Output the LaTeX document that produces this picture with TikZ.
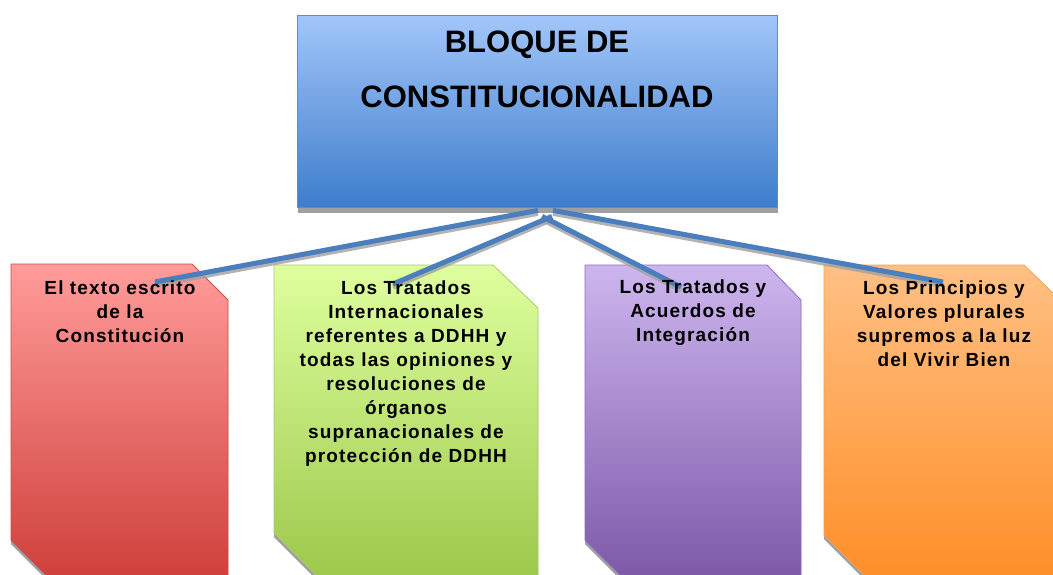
\documentclass[tikz,border=0pt]{standalone}
\usepackage{fontspec}
\setmainfont{Liberation Sans}
\newfontfamily\boxfont[LetterSpace=6]{Liberation Sans}
\definecolor{topT}{HTML}{A2C6FA}
\definecolor{topB}{HTML}{3E7DCB}
\definecolor{topD}{HTML}{5B8BC8}
\definecolor{redT}{HTML}{FF9C9A}
\definecolor{redB}{HTML}{CF3F3A}
\definecolor{redD}{HTML}{C0504D}
\definecolor{grnT}{HTML}{DFFF9E}
\definecolor{grnB}{HTML}{9CC84B}
\definecolor{grnD}{HTML}{A8CB6A}
\definecolor{purT}{HTML}{CDB6EE}
\definecolor{purB}{HTML}{7D58A8}
\definecolor{purD}{HTML}{8E6DB8}
\definecolor{orgT}{HTML}{FFC084}
\definecolor{orgB}{HTML}{FF8E28}
\definecolor{orgD}{HTML}{F7A04F}
\definecolor{lineC}{HTML}{4A7EBD}
\definecolor{shadowC}{HTML}{A0A0A0}
\begin{document}
\begin{tikzpicture}[x=1pt,y=-1pt,
  titlebox/.style={draw=topD, line width=0.8pt, top color=topT, bottom color=topB,
    minimum width=480pt, minimum height=192pt, inner sep=0pt},
  boxtext/.style={font=\boxfont\bfseries\fontsize{19}{24}\selectfont, align=center,
    anchor=north, inner sep=0pt, text=black},
  link/.style={draw=lineC, line width=5pt},
  linkshadow/.style={draw=shadowC, line width=5pt, opacity=0.8},
  boxshadow/.style={fill=shadowC}
]
\useasboundingbox (0,0) rectangle (1053,574);
\clip (0,0) rectangle (1053,574);

% top box
\fill[boxshadow] (298,19) rectangle (778,213);
\node[titlebox] (top) at (537,111) {};
\node[font=\bfseries\fontsize{31}{55}\selectfont, align=center, anchor=north, inner sep=0pt]
  (title) at (537,31) {BLOQUE DE\\CONSTITUCIONALIDAD};

% chamfered boxes: shadows
\begin{scope}[shift={(0,4)}]
\fill[boxshadow] (11,264) -- (192,264) -- (228,300) -- (228,580) -- (51,580) -- (11,540) -- cycle;
\fill[boxshadow] (274,265) -- (493,265) -- (538,308) -- (538,580) -- (321,580) -- (274,533) -- cycle;
\fill[boxshadow] (585,265) -- (767,265) -- (801,300) -- (801,580) -- (625,580) -- (585,540) -- cycle;
\fill[boxshadow] (824,265) -- (1024,265) -- (1054,294) -- (1054,580) -- (869,580) -- (824,535) -- cycle;
\end{scope}

% chamfered boxes
\path[draw=redD, line width=0.8pt, top color=redT, bottom color=redB]
  (11,264) -- (192,264) -- (228,300) -- (228,580) -- (51,580) -- (11,540) -- cycle;
\path[draw=grnD, line width=0.8pt, top color=grnT, bottom color=grnB]
  (274,265) -- (493,265) -- (538,308) -- (538,580) -- (321,580) -- (274,533) -- cycle;
\path[draw=purD, line width=0.8pt, top color=purT, bottom color=purB]
  (585,265) -- (767,265) -- (801,300) -- (801,580) -- (625,580) -- (585,540) -- cycle;
\path[draw=orgD, line width=0.8pt, top color=orgT, bottom color=orgB]
  (824,265) -- (1024,265) -- (1054,294) -- (1054,580) -- (869,580) -- (824,535) -- cycle;

% connector end points
\coordinate (hubA) at ([shift={(1pt,-3pt)}]top.south);
\coordinate (hubB) at ([shift={(15pt,-9pt)}]top.south);
\coordinate (hubC) at ([shift={(5pt,-9pt)}]top.south);
\coordinate (hubD) at ([shift={(16pt,-3pt)}]top.south);
\coordinate (endA) at (155,282);
\coordinate (endB) at (393,284);
\coordinate (endC) at (681,287);
\coordinate (endD) at (943,282);

% connector shadows
\draw[linkshadow] ([yshift=-3pt]hubA) -- ([yshift=-3pt]endA);
\draw[linkshadow] ([yshift=-3pt]hubB) -- ([yshift=-3pt]endB);
\draw[linkshadow] ([yshift=-3pt]hubC) -- ([yshift=-3pt]endC);
\draw[linkshadow] ([yshift=-3pt]hubD) -- ([yshift=-3pt]endD);
% connectors
\draw[link] (hubA) -- (endA);
\draw[link] (hubB) -- (endB);
\draw[link] (hubC) -- (endC);
\draw[link] (hubD) -- (endD);

% texts
\node[boxtext] (t1) at (120,281) {El texto escrito\\de la\\Constitución};
\node[boxtext] (t2) at (406,281) {Los Tratados\\Internacionales\\referentes a DDHH y\\todas las opiniones y\\resoluciones de\\órganos\\supranacionales de\\protección de DDHH};
\node[boxtext] (t3) at (693,280) {Los Tratados y\\Acuerdos de\\Integración};
\node[boxtext] (t4) at (944,281) {Los Principios y\\Valores plurales\\supremos a la luz\\del Vivir Bien};
\end{tikzpicture}
\end{document}
